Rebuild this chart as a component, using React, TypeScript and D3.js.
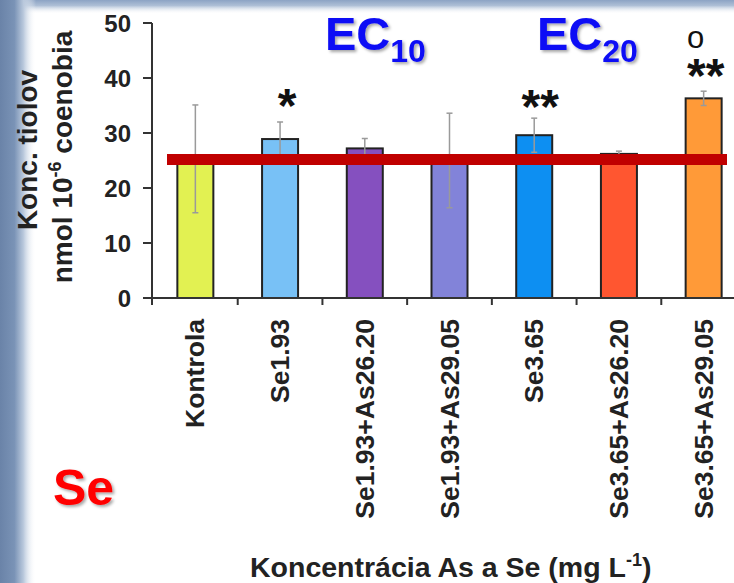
import React from "react";
import * as d3 from "d3";

const categories = [
  "Kontrola",
  "Se1.93",
  "Se1.93+As26.20",
  "Se1.93+As29.05",
  "Se3.65",
  "Se3.65+As26.20",
  "Se3.65+As29.05",
];
const means = [25.3, 28.9, 27.2, 25.0, 29.6, 26.2, 36.3];
const errors = [9.8, 3.1, 1.8, 8.6, 3.1, 0.5, 1.3];
const barColors = ["#e2f152", "#78c1f6", "#8550bf", "#8283d9", "#0d8ff2", "#ff5630", "#ff9a38"];
const yTicks = [0, 10, 20, 30, 40, 50];
const referenceValue = 25.2;
const significance = [
  { cat: "Se1.93", text: "*", value: 35.8, dx: 7 },
  { cat: "Se3.65", text: "**", value: 35.7, dx: 6 },
  { cat: "Se3.65+As29.05", text: "**", value: 41.2, dx: 2 },
];
const markers = [{ cat: "Se3.65+As29.05", text: "o", value: 45.4, dx: -8 }];

const FONT = "'Liberation Sans', Arial, Helvetica, sans-serif";

export default function App() {
  const W = 734;
  const H = 583;
  const x = d3
    .scaleBand<string>()
    .domain(categories)
    .range([153, 746])
    .paddingInner(0.575)
    .paddingOuter(0.2875);
  const y = d3.scaleLinear().domain([0, 50]).range([298, 23]);
  const step = x.step();
  const bw = x.bandwidth();
  const cx = (c: string) => (x(c) as number) + bw / 2;

  return (
    <svg
      width={W}
      height={H}
      style={{ position: "absolute", left: 0, top: 0, background: "#fff" }}
      fontFamily={FONT}
    >
      <defs>
        <linearGradient id="leftBand" x1="0" x2="1" y1="0" y2="0">
          <stop offset="0" stopColor="#6a83a8" />
          <stop offset="0.4" stopColor="#7a93b6" />
          <stop offset="0.65" stopColor="#b9c8dc" />
          <stop offset="1" stopColor="#ffffff" stopOpacity="0" />
        </linearGradient>
        <linearGradient id="topBand" x1="0" x2="0" y1="0" y2="1">
          <stop offset="0" stopColor="#8ca3c4" />
          <stop offset="0.4" stopColor="#aebfd6" />
          <stop offset="1" stopColor="#ffffff" stopOpacity="0" />
        </linearGradient>
        <filter id="shadow" x="-20%" y="-20%" width="140%" height="140%">
          <feDropShadow dx="2" dy="2" stdDeviation="1.5" floodColor="#000" floodOpacity="0.35" />
        </filter>
      </defs>

      <rect x={0} y={0} width={W} height={14} fill="url(#topBand)" />
      <rect x={0} y={0} width={36} height={H} fill="url(#leftBand)" />

      {/* bars */}
      {categories.map((c, i) => (
        <rect
          key={c}
          x={x(c)}
          y={y(means[i])}
          width={bw}
          height={y(0) - y(means[i])}
          fill={barColors[i]}
          stroke="#222"
          strokeWidth={2}
        />
      ))}

      {/* error bars */}
      {categories.map((c, i) => {
        const xc = cx(c);
        const top = y(means[i] + errors[i]);
        const bot = y(means[i] - errors[i]);
        return (
          <g key={c} stroke="#9a9a9a" strokeWidth={1.5}>
            <line x1={xc} x2={xc} y1={top} y2={bot} />
            <line x1={xc - 3} x2={xc + 3} y1={top} y2={top} />
            <line x1={xc - 3} x2={xc + 3} y1={bot} y2={bot} />
          </g>
        );
      })}

      {/* reference line */}
      <line x1={167} x2={727} y1={y(referenceValue)} y2={y(referenceValue)} stroke="#c00000" strokeWidth={11} />

      {/* axes */}
      <g stroke="#333" strokeWidth={2} fill="none">
        <line x1={152} x2={152} y1={y(50)} y2={y(0) + 1} />
        <line x1={152} x2={W} y1={y(0)} y2={y(0)} />
        {yTicks.map((t) => (
          <line key={t} x1={143} x2={152} y1={y(t)} y2={y(t)} />
        ))}
        {categories.map((c, i) => {
          const bx = (x(c) as number) - (step - bw) / 2;
          return <line key={c} x1={i === 0 ? 152 : bx} x2={i === 0 ? 152 : bx} y1={y(0)} y2={y(0) + 7} />;
        })}
      </g>
      {yTicks.map((t) => (
        <text
          key={t}
          x={131}
          y={y(t)}
          dy="0.36em"
          textAnchor="end"
          fontSize={24}
          fontWeight="bold"
          fill="#222"
        >
          {t}
        </text>
      ))}

      {/* x tick labels */}
      {categories.map((c) => (
        <text
          key={c}
          transform={`translate(${cx(c) + 9},319) rotate(-90)`}
          textAnchor="end"
          fontSize={26.5}
          fontWeight="bold"
          fill="#222"
        >
          {c}
        </text>
      ))}

      {/* y axis title */}
      <text transform="translate(37,150) rotate(-90)" textAnchor="middle" fontSize={28} fontWeight="bold" fill="#222">
        Konc. tiolov
      </text>
      <text transform="translate(72,157) rotate(-90)" textAnchor="middle" fontSize={28} fontWeight="bold" fill="#222">
        nmol 10
        <tspan fontSize={18} dy={-11}>-6</tspan>
        <tspan dy={11}> coenobia</tspan>
      </text>

      {/* x axis title */}
      <text x={250} y={577} fontSize={28.5} fontWeight="bold" fill="#222">
        Koncentrácia As a Se (mg L
        <tspan fontSize={18} dy={-11}>-1</tspan>
        <tspan dy={11}>)</tspan>
      </text>

      {/* significance marks */}
      {significance.map((s, i) => (
        <text
          key={i}
          x={cx(s.cat) + s.dx}
          y={y(s.value) + 21}
          textAnchor="middle"
          fontSize={48}
          fontWeight="bold"
          fill="#111"
        >
          {s.text}
        </text>
      ))}
      {markers.map((m, i) => (
        <text key={i} x={cx(m.cat) + m.dx} y={y(m.value)} textAnchor="middle" fontSize={31} fill="#111">
          {m.text}
        </text>
      ))}

      {/* EC labels */}
      <g filter="url(#shadow)" fill="#0b0bf5" fontWeight="bold">
        <text x={325} y={50} fontSize={47}>
          EC<tspan fontSize={32} dy={12}>10</tspan>
        </text>
        <text x={537} y={50} fontSize={47}>
          EC<tspan fontSize={32} dy={12}>20</tspan>
        </text>
      </g>

      <text x={53} y={505} fontSize={50} fontWeight="bold" fill="#ff0000" filter="url(#shadow)">
        Se
      </text>
    </svg>
  );
}
